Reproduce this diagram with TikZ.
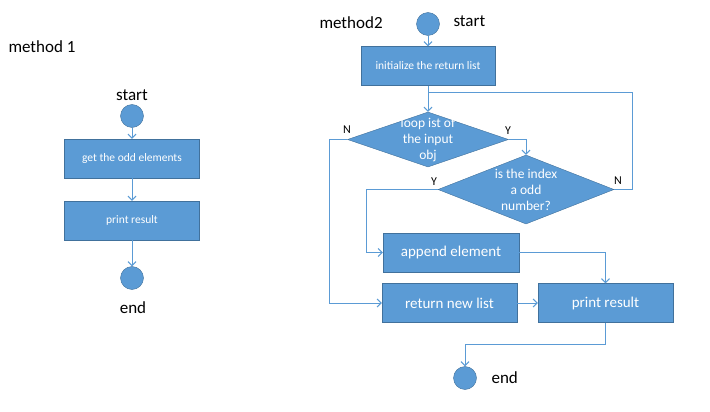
\documentclass[tikz,border=0pt]{standalone}
\usepackage{fontspec}
\setmainfont{Carlito}
\usetikzlibrary{positioning, arrows.meta, shapes.geometric}

\definecolor{boxblue}{HTML}{5B9BD5}
\definecolor{boxedge}{HTML}{41719C}
\definecolor{lineblue}{HTML}{5B9BD5}

\begin{document}
\begin{tikzpicture}[x=1pt, y=-1pt,
        every node/.style={font=\fontsize{17}{20}\selectfont},
        box/.style={rectangle, draw=boxedge, fill=boxblue, text=white, minimum width=135pt, minimum height=39pt, inner sep=0pt},
        smallbox/.style={box, font=\fontsize{11.5}{14}\selectfont},
        bigbox/.style={box, font=\fontsize{15}{18}\selectfont},
        terminal/.style={circle, draw=boxedge, fill=boxblue, minimum size=23pt, inner sep=0pt},
        decision/.style={diamond, draw=boxedge, fill=boxblue, inner sep=0pt},
        dtext/.style={text=white, align=center, font=\fontsize{13.5}{16}\selectfont},
        yn/.style={anchor=base, font=\fontsize{12}{14}\selectfont},
        line/.style={draw=lineblue, line width=1pt},
        flow/.style={line, -{Straight Barb[length=4pt,width=8pt]}}
    ]
    \useasboundingbox (0,0) rectangle (710,412);

    % method 1
    \node[anchor=base west] (m1) at (5,53) {method 1};
    \node[anchor=base] (s1) at (132,101) {start};
    \node[terminal] (c1) at (132,116) {};
    \node[smallbox] (odd) at (132,158.5) {get the odd elements};
    \node[smallbox] (pr1) at (132,220.5) {print result};
    \node[terminal] (e1) at (132,278) {};
    \node[anchor=base] (end1) at (133,313) {end};

    \draw[flow] (c1) -- (odd);
    \draw[flow] (odd) -- (pr1);
    \draw[flow] (pr1) -- (e1);

    % method 2
    \node[anchor=base west] (m2) at (316,29) {method2};
    \node[terminal] (c2) at (428,24) {};
    \node[anchor=base west] (s2) at (450,27) {start};
    \node[smallbox, minimum width=134pt] (init) at (428,66) {initialize the return list};
    \node[decision, minimum width=161pt, minimum height=55pt,
        label={[dtext]center:loop ist of\\the input\\obj}] (loop) at (428,139.5) {};
    \node[decision, minimum width=176pt, minimum height=69pt,
        label={[dtext]center:is the index\\a odd\\number?}] (isodd) at (526,189.5) {};
    \node[bigbox, minimum width=136pt] (app) at (451,252.5) {append element};
    \node[bigbox] (ret) at (449.5,303) {return new list};
    \node[bigbox] (pr2) at (605.5,303) {print result};
    \node[terminal] (e2) at (465,378) {};
    \node[anchor=base west] (end2) at (488,383) {end};
    \coordinate (join) at (428,93);

    % Y / N
    \node[yn] (n1) at (347,133) {N};
    \node[yn] (y1) at (508,135) {Y};
    \node[yn] (y2) at (434,185) {Y};
    \node[yn] (n2) at (618,184) {N};

    \draw[flow] (c2) -- (init);
    \draw[flow] (init) -- (loop);
    \draw[line] (isodd.east) -- ++(18,0) |- (join);
    \draw[flow] (loop.east) -| (isodd.north);
    \draw[flow] (loop.west) -- ++(-18,0) |- (ret.west);
    \draw[flow] (isodd.west) -- ++(-71,0) |- (app.west);
    \draw[flow] (app.east) -| (pr2.north);
    \draw[flow] (ret) -- (pr2);
    \draw[flow] (pr2.south) -- ++(0,22) -| (e2.north);

\end{tikzpicture}
\end{document}
